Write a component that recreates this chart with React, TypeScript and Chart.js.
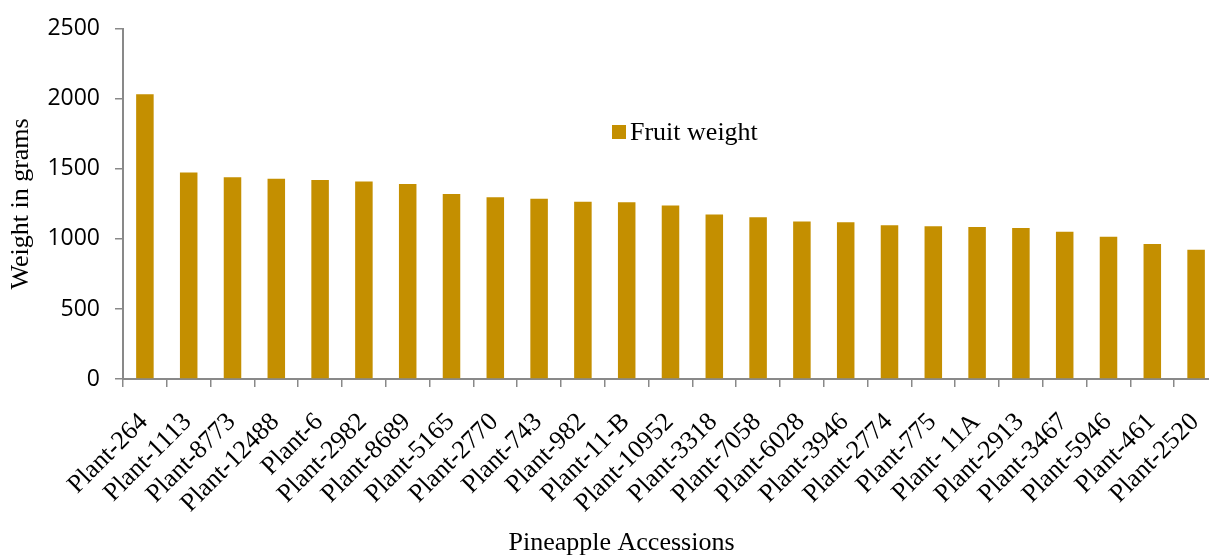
import React, { useEffect, useRef } from "react";
import { Chart, registerables } from "chart.js";

Chart.register(...registerables);

const categories: string[] = [
  "Plant-264", "Plant-1113", "Plant-8773", "Plant-12488", "Plant-6", "Plant-2982",
  "Plant-8689", "Plant-5165", "Plant-2770", "Plant-743", "Plant-982", "Plant-11-B",
  "Plant-10952", "Plant-3318", "Plant-7058", "Plant-6028", "Plant-3946", "Plant-2774",
  "Plant-775", "Plant- 11A", "Plant-2913", "Plant-3467", "Plant-5946", "Plant-461", "Plant-2520",
];

const fruitWeight: number[] = [
  2032, 1474, 1440, 1430, 1421, 1410, 1392, 1321, 1298, 1286, 1265, 1262,
  1238, 1174, 1154, 1125, 1119, 1097, 1090, 1085, 1078, 1052, 1015, 964, 923,
];

const seriesLabel = "Fruit weight";
const yTicks: number[] = [0, 500, 1000, 1500, 2000, 2500];
const xTitle = "Pineapple Accessions";
const yTitle = "Weight in grams";

const BAR = "#C48F00";
const AXIS = "#898989";
const SERIF = "'Liberation Serif', 'Times New Roman', serif";
const SANS = "'Open Sans', 'Noto Sans', sans-serif";

const inlineLegend = {
  id: "inlineLegend",
  afterDraw(chart: any, _args: any, opts: any) {
    const ctx = chart.ctx;
    const ds = chart.data.datasets[0];
    ctx.save();
    ctx.fillStyle = ds.backgroundColor;
    ctx.fillRect(opts.x, opts.y, opts.box, opts.box);
    ctx.fillStyle = "#000";
    ctx.font = `26px ${SERIF}`;
    ctx.textBaseline = "middle";
    ctx.textAlign = "left";
    ctx.fillText(ds.label, opts.x + opts.box + 4, opts.y + opts.box / 2 + 1);
    ctx.restore();
  },
};

export default function App() {
  const ref = useRef<HTMLCanvasElement | null>(null);

  useEffect(() => {
    document.documentElement.style.overflow = "hidden";
    document.body.style.overflow = "hidden";
    const canvas = ref.current!;
    const chart = new Chart(canvas, {
      type: "bar",
      data: {
        labels: categories,
        datasets: [
          {
            label: seriesLabel,
            data: fruitWeight,
            backgroundColor: BAR,
            borderWidth: 0,
            barPercentage: 0.4,
            categoryPercentage: 1.0,
            yAxisID: "y",
          },
        ],
      },
      options: {
        responsive: false,
        animation: false,
        devicePixelRatio: 1,
        layout: { padding: { top: 22, left: 0, right: 0, bottom: 0 } },
        plugins: {
          legend: { display: false },
          tooltip: { enabled: false },
          title: {
            display: true,
            position: "bottom",
            text: xTitle,
            color: "#000",
            font: { family: SERIF, size: 26, weight: "normal", lineHeight: 1 },
            padding: { top: 1, bottom: 1 },
          },
          inlineLegend: { x: 612, y: 125, box: 14 },
        } as any,
        scales: {
          x: {
            type: "category",
            offset: true,
            grid: {
              display: true,
              drawOnChartArea: false,
              drawTicks: true,
              tickLength: 8,
              color: AXIS,
              lineWidth: 1.5,
              offset: true,
            },
            border: { display: true, color: AXIS, width: 2 },
            ticks: {
              autoSkip: false,
              minRotation: 45,
              maxRotation: 45,
              padding: 20,
              labelOffset: -1,
              color: "#000",
              font: { family: SERIF, size: 26 },
            },
            afterFit(scale: any) {
              scale.height = 150;
            },
          },
          y: {
            type: "linear",
            position: "left",
            min: 0,
            max: 2500,
            afterBuildTicks(scale: any) {
              scale.ticks = yTicks.map((v) => ({ value: v }));
            },
            grid: {
              display: true,
              drawOnChartArea: false,
              drawTicks: true,
              tickLength: 8,
              color: AXIS,
              lineWidth: 1.5,
            },
            border: { display: true, color: AXIS, width: 2 },
            ticks: {
              padding: 15,
              color: "#000",
              font: { family: SANS, size: 23 },
              callback: (v: any) => String(v),
            },
            title: {
              display: true,
              text: yTitle,
              color: "#000",
              font: { family: SERIF, size: 26, lineHeight: 1 },
              padding: { top: 8, bottom: 0 },
            },
            afterFit(scale: any) {
              scale.width = 123;
            },
          },
          yR: {
            type: "linear",
            position: "right",
            display: true,
            grid: { display: false },
            border: { display: false },
            ticks: { display: false },
            afterFit(scale: any) {
              scale.width = 25;
            },
          },
        },
      },
      plugins: [inlineLegend],
    });
    return () => chart.destroy();
  }, []);

  return (
    <div style={{ position: "fixed", left: 0, top: 0, width: 1243, height: 557, background: "#fff" }}>
      <canvas ref={ref} width={1243} height={557} style={{ width: 1243, height: 557, display: "block" }} />
    </div>
  );
}
